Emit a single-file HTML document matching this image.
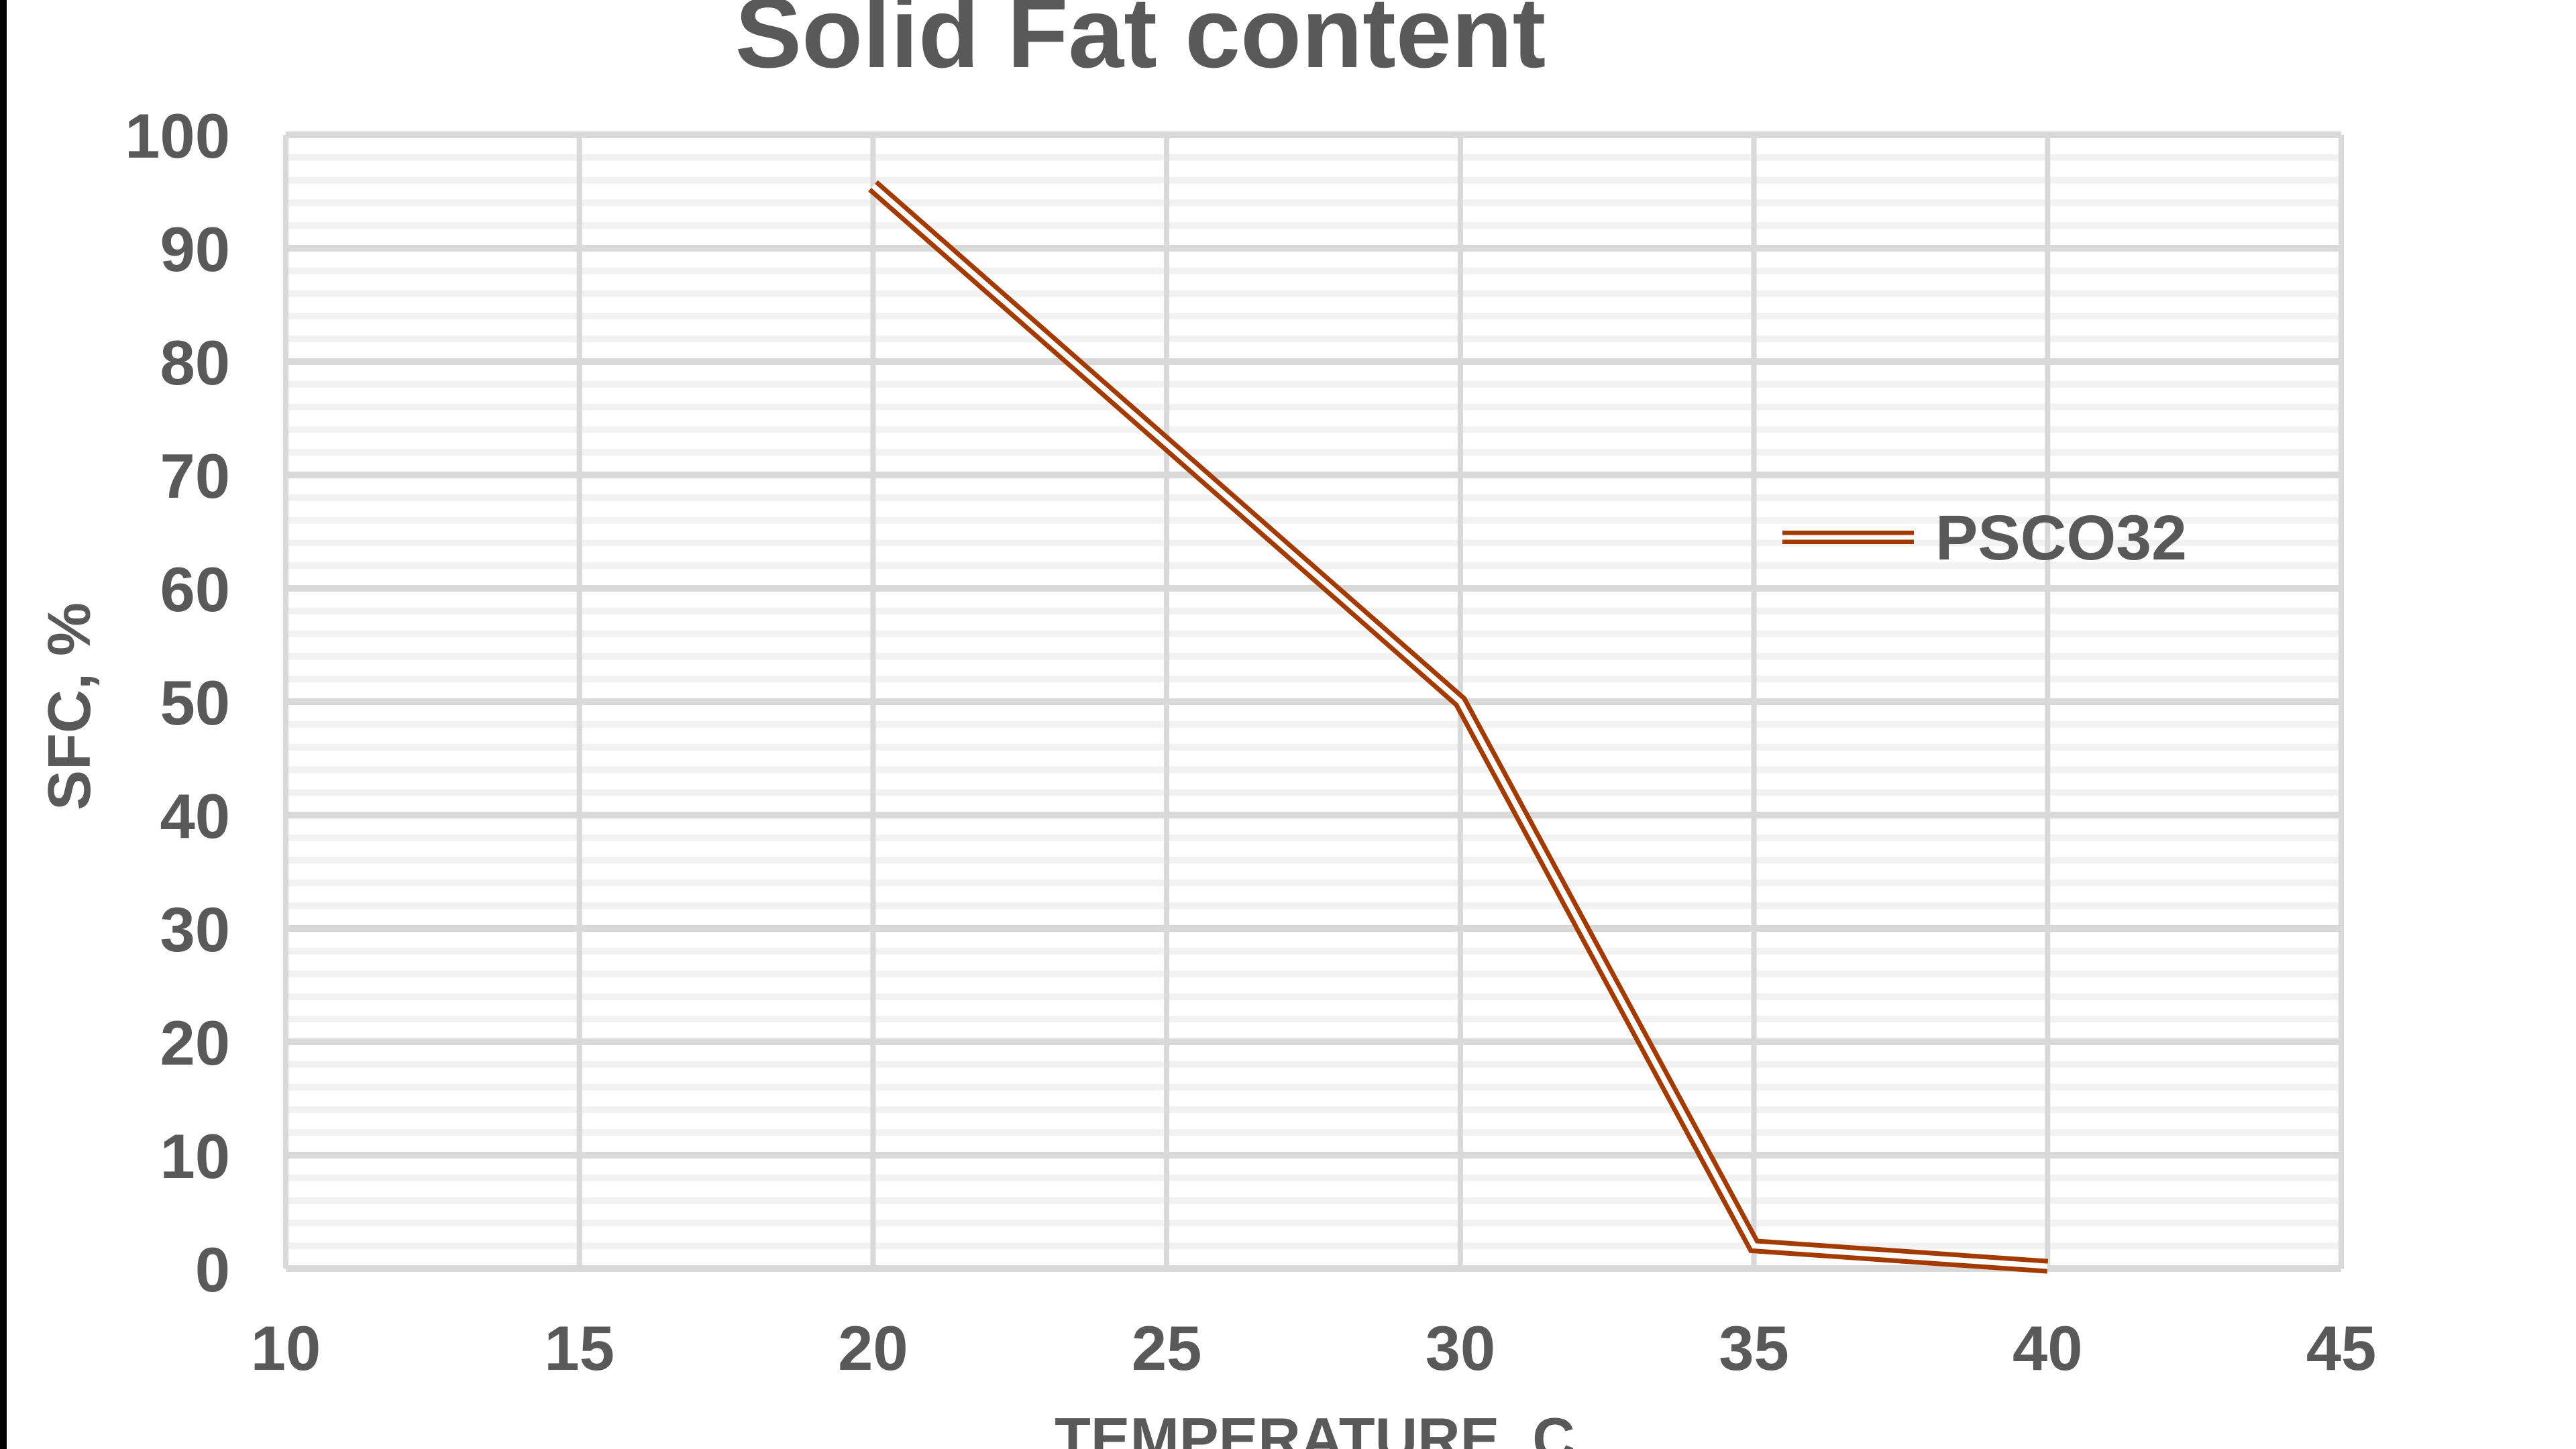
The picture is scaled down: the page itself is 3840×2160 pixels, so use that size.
<!DOCTYPE html>
<html><head><meta charset="utf-8"><style>
html,body{margin:0;padding:0;background:#fff;}
svg{display:block;}
text{font-family:"Liberation Sans",Arial,sans-serif;font-weight:bold;fill:#595959;}
</style></head><body>
<svg id="chart" width="3840" height="2160" viewBox="0 0 3840 2160" xmlns="http://www.w3.org/2000/svg">
<rect x="0" y="0" width="3840" height="2160" fill="#fff"/>
<rect x="0" y="0" width="10" height="2160" fill="#000"/>
<text x="1700" y="100" text-anchor="middle" font-size="149">Solid Fat content</text>
<g id="grid"></g>
<g id="axes"></g>
<g id="series"></g>
<text transform="translate(134,1053) rotate(-90)" text-anchor="middle" font-size="90">SFC, %</text>
<text x="1960" y="2175" text-anchor="middle" font-size="88">TEMPERATURE, C</text>
<g>
<line x1="2657" y1="801" x2="2853" y2="801" stroke="#a33a00" stroke-width="20"/>
<line x1="2657" y1="801" x2="2853" y2="801" stroke="#fff" stroke-width="7"/>
<text x="2885" y="834" font-size="95">PSCO32</text>
</g>
</svg>
<script>
const xCategories = [20, 30, 35, 40];
const sfcValues = [95.5, 50, 2, 0.2];
const xTicks = [10, 15, 20, 25, 30, 35, 40, 45];
const yTicks = [0, 10, 20, 30, 40, 50, 60, 70, 80, 90, 100];
const yMinorTicks = [2,4,6,8,12,14,16,18,22,24,26,28,32,34,36,38,42,44,46,48,52,54,56,58,62,64,66,68,72,74,76,78,82,84,86,88,92,94,96,98];

const NS = "http://www.w3.org/2000/svg";
const L = 426, R = 3490, T = 201, B = 1891;
const xs = v => L + (v - 10) / 35 * (R - L);
const ys = v => B - v / 100 * (B - T);
function mk(tag, attrs, parent) {
  const e = document.createElementNS(NS, tag);
  for (const k in attrs) e.setAttribute(k, attrs[k]);
  parent.appendChild(e);
  return e;
}
const grid = document.getElementById('grid');
const axes = document.getElementById('axes');
const series = document.getElementById('series');
yMinorTicks.forEach(v => {
  const l = mk('line', {x1: L, x2: R, y1: ys(v), y2: ys(v), stroke: '#f2f2f2', 'stroke-width': 10}, grid);
  
  
});
xTicks.forEach(v => {
  const l = mk('line', {x1: xs(v), x2: xs(v), y1: T, y2: B, stroke: '#d9d9d9', 'stroke-width': 8}, grid);
  
  
  const t = mk('text', {x: xs(v), y: 2042, 'text-anchor': 'middle', 'font-size': 94}, axes);
  t.textContent = v;
  
  
});
yTicks.forEach(v => {
  const l = mk('line', {x1: L, x2: R, y1: ys(v), y2: ys(v), stroke: '#d9d9d9', 'stroke-width': 10}, grid);
  
  
  const t = mk('text', {x: 343, y: ys(v) + 34, 'text-anchor': 'end', 'font-size': 94}, axes);
  t.textContent = v;
  
  
});
const pts = xCategories.map((x, i) => xs(x) + ',' + ys(sfcValues[i])).join(' ');
const outer = mk('polyline', {points: pts, fill: 'none', stroke: '#a33a00', 'stroke-width': 22, 'stroke-linejoin': 'miter'}, series);


const inner = mk('polyline', {points: pts, fill: 'none', stroke: '#fff', 'stroke-width': 8, 'stroke-linejoin': 'miter'}, series);


</script>
</body></html>
